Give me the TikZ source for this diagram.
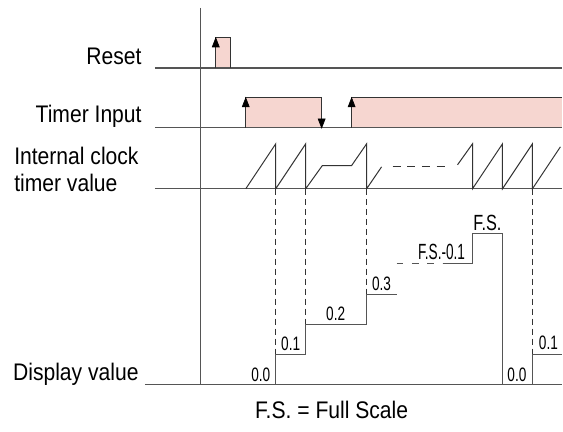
\documentclass[tikz,border=0pt]{standalone}
\usepackage{fontspec}
\usepackage{xcolor}
\newfontfamily\labelfont[FakeStretch=0.88]{Liberation Sans}
\newfontfamily\numfont[FakeStretch=0.7]{Liberation Sans}
\newfontfamily\fsfont[FakeStretch=0.74]{Liberation Sans}
\newfontfamily\fsnarrowfont[FakeStretch=0.62]{Liberation Sans}
\definecolor{pulsefill}{RGB}{246,214,208}
\definecolor{linegray}{RGB}{85,85,85}

\begin{document}
\begin{tikzpicture}[x=0.75pt,y=0.75pt,yscale=-1,xscale=1,
  rowlabel/.style={inner sep=0.75pt, font=\labelfont\fontsize{18}{20}\selectfont},
  numlabel/.style={inner sep=0.75pt, font=\numfont\fontsize{14.6}{16}\selectfont},
  baseline line/.style={color=linegray, line width=0.9},
  signal/.style={color=black!80, line width=0.75},
  dropline/.style={color=black!80, line width=0.75, dash pattern=on 4.5pt off 3pt}]
\path (0,0) rectangle (563,432); %set diagram size 563 x 432

%Pulse fills
\fill [pulsefill] (216,68) rectangle (231,38);
\fill [pulsefill] (246,128) rectangle (322,98);
\fill [pulsefill] (352,128) rectangle (563,98);

%Straight Lines [vertical axis]
\draw [baseline line]   (201,8) -- (201,385) ;
%Straight Lines [reset base]
\draw [baseline line]   (155,68) -- (563,68) ;
%Straight Lines [timer base]
\draw [baseline line]   (155,128) -- (563,128) ;
%Straight Lines [clock base]
\draw [baseline line]   (155,189) -- (563,189) ;
%Straight Lines [display base]
\draw [baseline line]   (145,385) -- (563,385) ;

%Reset pulse
\draw [signal]   (216,68) -- (216,38) -- (231,38) -- (231,68) ;
\draw [shift={(216,38)}, rotate = 90] [color=black, fill=black, line width=0.5]   (9,-3.5) -- (0,0) -- (9,3.5) -- cycle ;
%Timer pulses
\draw [signal]   (246,128) -- (246,98) -- (322,98) -- (322,128) ;
\draw [shift={(246,98)}, rotate = 90] [color=black, fill=black, line width=0.5]   (9,-3.5) -- (0,0) -- (9,3.5) -- cycle ;
\draw [shift={(322,128)}, rotate = 270] [color=black, fill=black, line width=0.5]   (9,-3.5) -- (0,0) -- (9,3.5) -- cycle ;
\draw [signal]   (352,128) -- (352,98) -- (563,98) ;
\draw [shift={(352,98)}, rotate = 90] [color=black, fill=black, line width=0.5]   (9,-3.5) -- (0,0) -- (9,3.5) -- cycle ;

%Clock ramps
\draw [signal]   (246,189) -- (276,144) -- (276,189) -- (306,144) -- (306,189) -- (322.7,165.7) -- (352,165.7) -- (367,144) -- (367,189) -- (382,167) ;
\draw [signal, dash pattern=on 6pt off 5pt]   (393,166.5) -- (447,166.5) ;
\draw [signal]   (458,165) -- (473,144) -- (473,189) -- (503,144) -- (503,189) -- (533,144) -- (533,189) -- (561,147) ;

%Dashed drop lines
\draw [dropline]   (276,189) -- (276,355) ;
\draw [dropline]   (306,189) -- (306,325) ;
\draw [dropline]   (367,189) -- (367,295) ;
\draw [dropline]   (533,189) -- (533,355) ;

%Display steps
\draw [baseline line]   (276,385) -- (276,355) -- (306,355) -- (306,325) -- (367,325) -- (367,295) -- (397,295) ;
\draw [baseline line, dash pattern=on 5pt off 6.5pt]   (397,264) -- (443,264) ;
\draw [baseline line]   (443,264) -- (473,264) -- (473,234) -- (503,234) -- (503,385) ;
\draw [baseline line]   (533,385) -- (533,355) -- (563,355) ;

% Text Node
\draw (143,65) node [anchor=base east][rowlabel] (reset) {Reset};
% Text Node
\draw (143,123) node [anchor=base east][rowlabel] (timer) {Timer Input};
% Text Node
\draw (13,146) node [anchor=north west][rowlabel] [align=left] (clock) {Internal clock\\timer value};
% Text Node
\draw (140,381) node [anchor=base east][rowlabel] (display) {Display value};
% Text Node
\draw (332,410) node [rowlabel] (legend) {F.S. = Full Scale};

% Text Node
\draw (261,375) node [numlabel] (v00a) {0.0};
% Text Node
\draw (291,344.5) node [numlabel] (v01a) {0.1};
% Text Node
\draw (336,314) node [numlabel] (v02) {0.2};
% Text Node
\draw (382,284.5) node [numlabel] (v03) {0.3};
% Text Node
\draw (442,252) node [inner sep=0.75pt, font=\fsnarrowfont\fontsize{16.5}{18}\selectfont] (vfsm) {F.S.-0.1};
% Text Node
\draw (488,223) node [inner sep=0.75pt, font=\fsfont\fontsize{16.5}{18}\selectfont] (vfs) {F.S.};
% Text Node
\draw (517.5,375) node [numlabel] (v00b) {0.0};
% Text Node
\draw (549,343) node [numlabel] (v01b) {0.1};

\end{tikzpicture}
\end{document}
